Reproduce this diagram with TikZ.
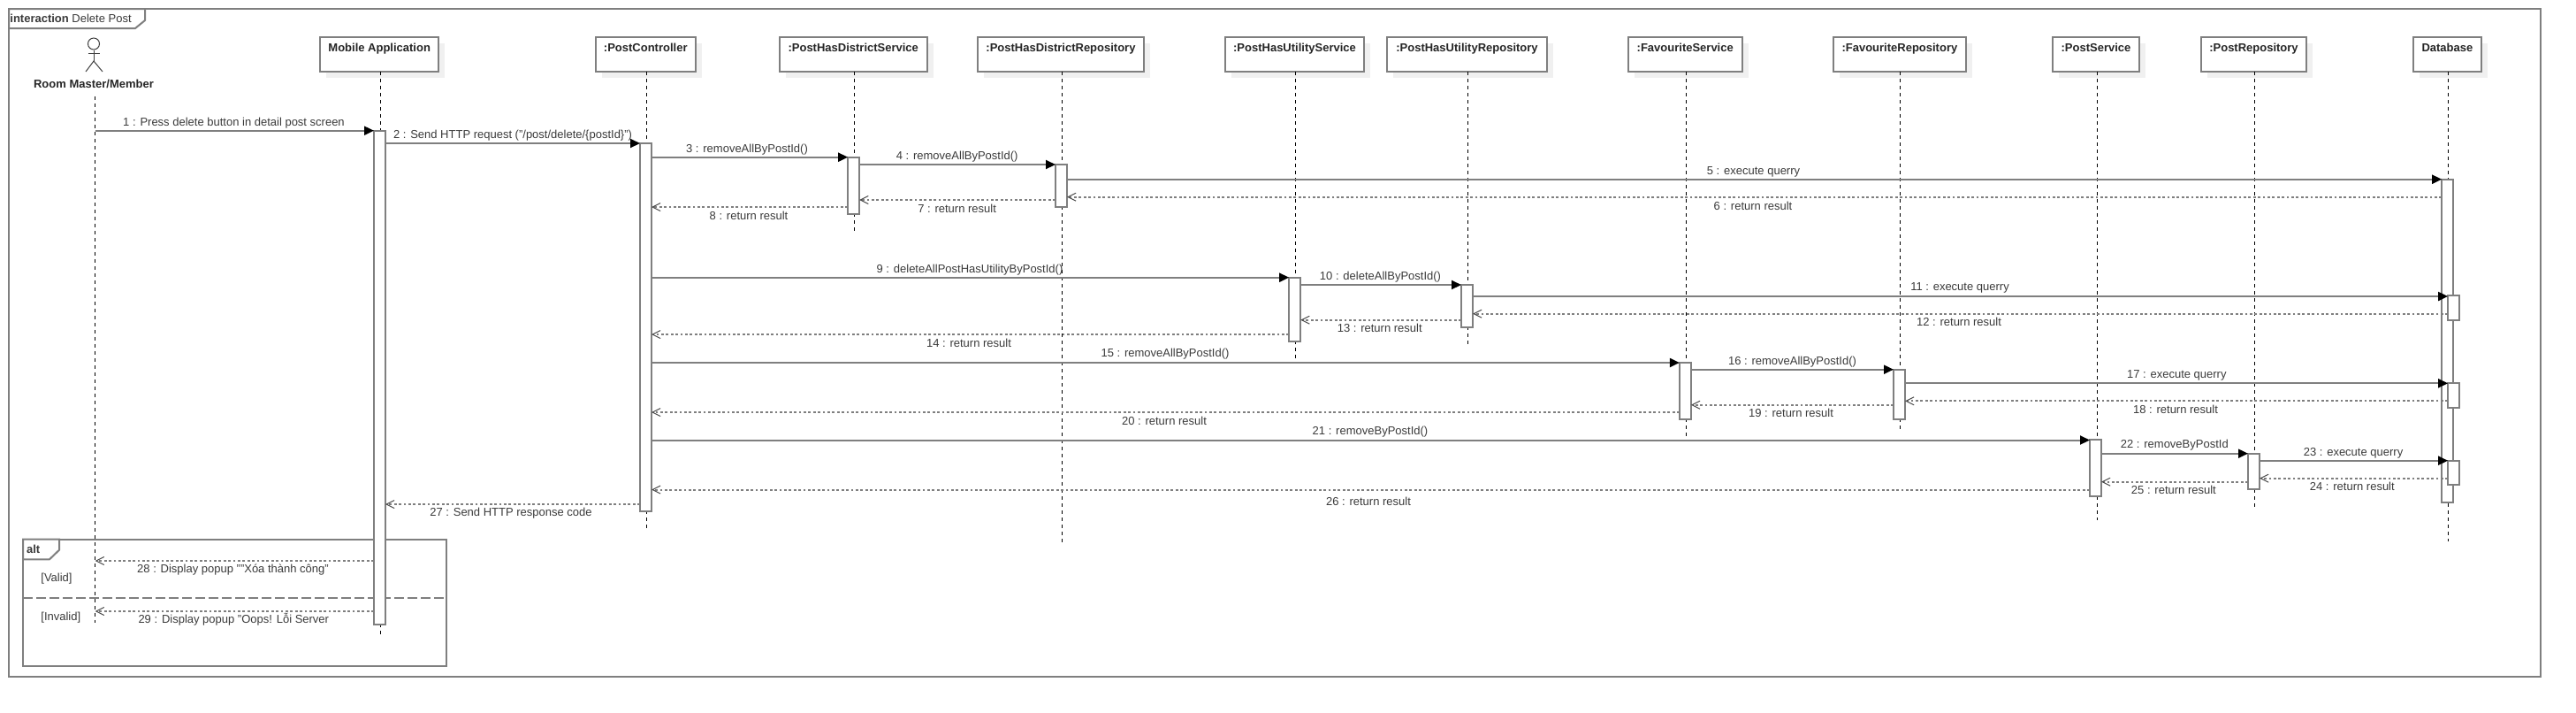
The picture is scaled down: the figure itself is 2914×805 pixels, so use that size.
\documentclass[tikz,border=0pt]{standalone}
\usepackage{fontspec}
\setmainfont{Liberation Sans}
\usetikzlibrary{arrows.meta,shadows}
\definecolor{lineGray}{HTML}{7F7F7F}
\definecolor{textGray}{HTML}{3A3A3A}
\tikzset{
	FrameStyle/.style = {draw=lineGray, line width=1pt, inner sep=0, outer sep=0},
	ObjectStyle/.style = {FrameStyle, fill=white, font=\fontsize{6.5}{8}\selectfont\bfseries, text=black!85,
		minimum height=19.65pt, inner xsep=0, text height=8.4pt, text depth=11.25pt,
		drop shadow={shadow xshift=3.5pt, shadow yshift=-3.5pt, fill=black!6, opacity=1}},
	BarStyle/.style = {FrameStyle, fill=white, minimum width=6.5pt},
	LifeStyle/.style = {draw=black, line width=0.5pt, dash pattern=on 2pt off 2pt},
	CallStyle/.style = {draw=lineGray, line width=1pt, -{Triangle[length=5.5pt,width=5pt,color=black]}},
	ReplyStyle/.style = {draw=lineGray, line width=1pt, dash pattern=on 1.4pt off 1.3pt,
		-{Straight Barb[length=4.5pt,width=4.5pt,line width=0.5pt,color=black!70]}},
	LabelStyle/.style = {font=\fontsize{6.5}{8}\selectfont, text=textGray, inner sep=0, text height=5pt, text depth=1.5pt, yshift=-0.5pt},
}
\newcommand{\Object}[5]{%
	\node[ObjectStyle, minimum width=#3*0.5pt] (box#1) at (#2,61.35) {#4};
	\coordinate (end#1) at (#2+1,#5);
	\draw[LifeStyle] ([xshift=0.5pt]box#1.south) -- (end#1);
}
\newcommand{\Bar}[4]{%
	\node[BarStyle, minimum height={(#4-#3)*0.5pt}] (bar#1) at (#2,{(#3+#4)/2}) {};
}
\newcommand{\Call}[7]{%
	\draw[CallStyle] (#2 |- 0,#4) -- (#3 |- 0,#4);
	\node[LabelStyle] (msg#1) at (#6,#7) {#1 : #5};
}
\newcommand{\Reply}[7]{%
	\draw[ReplyStyle] (#2 |- 0,#4) -- (#3 |- 0,#4);
	\node[LabelStyle] (msg#1) at (#6,#7) {#1 : #5};
}
\begin{document}
\begin{tikzpicture}[x=0.5pt,y=-0.5pt]
\useasboundingbox (0,0) rectangle (2914,805);
\node[FrameStyle, minimum width=1432pt, minimum height=377.5pt] (frameMain) at (1442,387.5) {};
\node[FrameStyle, minimum width=239.5pt, minimum height=71.65pt] (frameAlt) at (265.5,681.35) {};
\draw[FrameStyle, fill=white] (frameMain.north west) -- (164,10) -- (164,23) -- (153,32) -- (10,32) -- cycle;
\node[LabelStyle, anchor=west] (lblMain) at (11,21) {\textbf{interaction} Delete Post};
\draw[FrameStyle, fill=white] (frameAlt.north west) -- (67,609.7) -- (67,621.7) -- (56,632.3) -- (26,632.3) -- cycle;
\node[LabelStyle, font=\fontsize{6.5}{8}\selectfont\bfseries] (lblAlt) at (37.7,620.7) {alt};
\node[LabelStyle, anchor=west] (lblValid) at (46,653.3) {[Valid]};
\node[LabelStyle, anchor=west] (lblInvalid) at (46,696.7) {[Invalid]};
\draw[FrameStyle, dash pattern=on 5.5pt off 2pt] (frameAlt.west |- 0,675.7) -- (frameAlt.east |- 0,675.7);
\node[circle, draw=black!75, line width=0.5pt, minimum size=6.5pt, inner sep=0] (actorHead) at (106,49.5) {};
\coordinate (actorHip) at (106,69);
\coordinate (actorHandL) at (99.5,60);
\coordinate (actorHandR) at (113,60);
\coordinate (actorFootL) at (97,81);
\coordinate (actorFootR) at (116,81);
\draw[black!75, line width=0.5pt] (actorHead.south) -- (actorHip);
\draw[black!75, line width=0.5pt] (actorHandL) -- (actorHandR);
\draw[black!75, line width=0.5pt] (actorFootL) -- (actorHip) -- (actorFootR);
\node[LabelStyle, font=\fontsize{6.5}{8}\selectfont\bfseries, text=black!85, inner sep=3pt] (lblActor) at (106,95) {Room Master/Member};
\coordinate (endActor) at (107.7,704);
\draw[LifeStyle] (lblActor.south -| endActor) -- (endActor);
\Object{Mobile}{429.2}{134.5}{Mobile Application}{720.7}
\Object{Ctl}{730.25}{113.5}{:PostController}{600}
\Object{Svc}{965.25}{166.5}{:PostHasDistrictService}{264}
\Object{Rep}{1200}{188}{:PostHasDistrictRepository}{613}
\Object{Util}{1464.5}{157}{:PostHasUtilityService}{408}
\Object{UtilR}{1659.5}{180.2}{:PostHasUtilityRepository}{391}
\Object{Fav}{1906.25}{128.5}{:FavouriteService}{493}
\Object{FavR}{2148.9}{150.3}{:FavouriteRepository}{487}
\Object{PS}{2371}{98}{:PostService}{588}
\Object{PR}{2549.5}{119}{:PostRepository}{575}
\Object{Db}{2768.4}{76.7}{Database}{611.7}
\Bar{Mobile}{429.5}{147.7}{706}
\Bar{Ctl}{730.5}{162}{578}
\Bar{Svc}{965.7}{177.7}{241.7}
\Bar{Rep}{1200.5}{186}{234}
\Bar{Util}{1464.7}{313.7}{386}
\Bar{UtilR}{1659.5}{321.7}{370}
\Bar{Fav}{1906.4}{410}{473.7}
\Bar{FavR}{2148.5}{417.7}{473.7}
\Bar{PS}{2370.5}{496.7}{560.7}
\Bar{PR}{2549.5}{512.7}{552.7}
\Bar{Db}{2768.7}{202.7}{568.3}
\Bar{DbA}{2775.6}{334.3}{362.3}
\Bar{DbB}{2775.6}{433}{461.3}
\Bar{DbC}{2775.6}{520.7}{548.3}
\Call{1}{endActor}{barMobile.west}{147.7}{Press delete button in detail post screen}{264.5}{137.7}
\Call{2}{barMobile.east}{barCtl.west}{162}{Send HTTP request ("/post/delete/\{postId\}")}{580}{151.7}
\Call{3}{barCtl.east}{barSvc.west}{177.7}{removeAllByPostId()}{845}{167.5}
\Call{4}{barSvc.east}{barRep.west}{186}{removeAllByPostId()}{1082.7}{175.7}
\Call{5}{barRep.east}{barDb.west}{202.7}{execute querry}{1983.5}{192.7}
\Reply{6}{barDb.west}{barRep.east}{222.7}{return result}{1983}{232.7}
\Reply{7}{barRep.west}{barSvc.east}{226}{return result}{1082.6}{235.7}
\Reply{8}{barSvc.west}{barCtl.east}{234}{return result}{847}{243.7}
\Call{9}{barCtl.east}{barUtil.west}{313.7}{deleteAllPostHasUtilityByPostId()}{1097}{304}
\Call{10}{barUtil.east}{barUtilR.west}{322}{deleteAllByPostId()}{1561.5}{311.7}
\Call{11}{barUtilR.east}{barDbA.west}{335}{execute querry}{2217}{324.3}
\Reply{12}{barDbA.west}{barUtilR.east}{354.7}{return result}{2216}{364}
\Reply{13}{barUtilR.west}{barUtil.east}{361.7}{return result}{1560.7}{371.3}
\Reply{14}{barUtil.west}{barCtl.east}{378}{return result}{1096}{387.7}
\Call{15}{barCtl.east}{barFav.west}{410}{removeAllByPostId()}{1318}{399.3}
\Call{16}{barFav.east}{barFavR.west}{417.7}{removeAllByPostId()}{2027.5}{407.7}
\Call{17}{barFavR.east}{barDbB.west}{433.3}{execute querry}{2462.3}{422.7}
\Reply{18}{barDbB.west}{barFavR.east}{453.3}{return result}{2461}{462.7}
\Reply{19}{barFavR.west}{barFav.east}{457.7}{return result}{2026}{467.3}
\Reply{20}{barFav.west}{barCtl.east}{466}{return result}{1317}{475.7}
\Call{21}{barCtl.east}{barPS.west}{497.5}{removeByPostId()}{1550}{487.3}
\Call{22}{barPS.east}{barPR.west}{512.7}{removeByPostId}{2459.8}{502.3}
\Call{23}{barPR.east}{barDbC.west}{520.7}{execute querry}{2662}{510.7}
\Reply{24}{barDbC.west}{barPR.east}{540.7}{return result}{2660.8}{550}
\Reply{25}{barPR.west}{barPS.east}{544.7}{return result}{2458.9}{554}
\Reply{26}{barPS.west}{barCtl.east}{553.5}{return result}{1548}{567.3}
\Reply{27}{barCtl.west}{barMobile.east}{570}{Send HTTP response code}{578}{579.3}
\Reply{28}{barMobile.west}{endActor}{634}{Display popup ""Xóa thành công"}{263.5}{643.3}
\Reply{29}{barMobile.west}{endActor}{691}{Display popup "Oops! Lỗi Server}{264.3}{700.3}
\end{tikzpicture}
\end{document}
